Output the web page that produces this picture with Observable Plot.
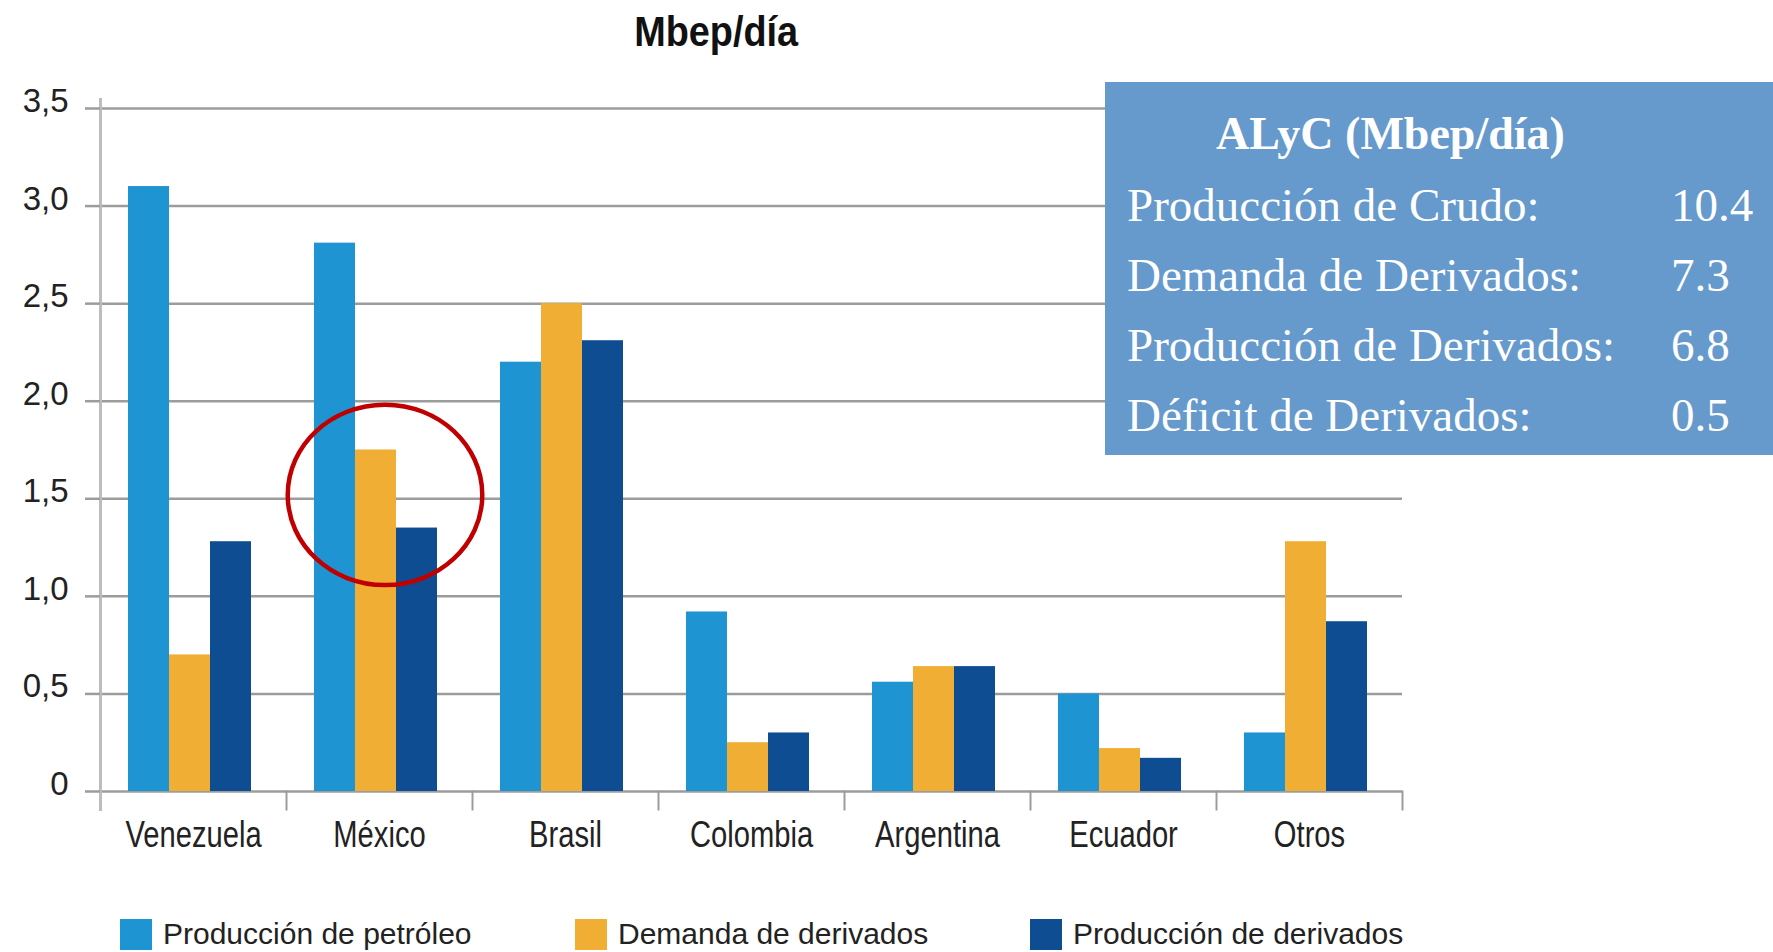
<!DOCTYPE html>
<html>
<head>
<meta charset="utf-8">
<script src="https://cdn.jsdelivr.net/npm/d3@7"></script>
<script src="https://cdn.jsdelivr.net/npm/@observablehq/plot@0.6"></script>
<style>
  html, body { margin: 0; padding: 0; background: #fff; overflow: hidden; }
  #wrap { position: relative; width: 1773px; height: 952px; }
  #title { height: 62px; line-height: 62px; width: 1432px; text-align: center;
           font-weight: bold; font-size: 43px; color: #111;
           font-family: "Liberation Sans", Arial, sans-serif; }
  #title span { display: inline-block; transform: scaleX(0.88); }
  #chart svg { display: block; }
  #legend { display: flex; padding-left: 120px; padding-top: 14px; height: 36px; }
  .item { width: 455px; display: flex; align-items: center; }
  .sw { width: 32px; height: 31px; margin-right: 11px; flex: none; }
  .lt { font-family: "Liberation Sans", Arial, sans-serif; font-size: 30px; color: #222; white-space: nowrap; }
  #box { position: absolute; left: 1105px; top: 82px; width: 668px; height: 373px; background: #6699cc; }
</style>
</head>
<body>
<div id="wrap">
  <div id="title"><span>Mbep/día</span></div>
  <div id="chart"></div>
  <div id="legend"></div>
  <div id="box"></div>
</div>
<script>
// ---- data ----
const countries = ["Venezuela", "México", "Brasil", "Colombia", "Argentina", "Ecuador", "Otros"];
const seriesNames = ["Producción de petróleo", "Demanda de derivados", "Producción de derivados"];
const produccionPetroleo  = [3.10, 2.81, 2.20, 0.92, 0.56, 0.50, 0.30];
const demandaDerivados    = [0.70, 1.75, 2.50, 0.25, 0.64, 0.22, 1.28];
const produccionDerivados = [1.28, 1.35, 2.31, 0.30, 0.64, 0.17, 0.87];
const seriesColors = ["#1f94d2", "#f0ae35", "#0e4d92"];
const yTicks = [0, 0.5, 1, 1.5, 2, 2.5, 3, 3.5];
const yTickLabels = ["0", "0,5", "1,0", "1,5", "2,0", "2,5", "3,0", "3,5"];
const boxTitle = "ALyC (Mbep/día)";
const boxLabels = ["Producción de Crudo:", "Demanda de Derivados:", "Producción de Derivados:", "Déficit de Derivados:"];
const boxValues = ["10.4", "7.3", "6.8", "0.5"];
const highlight = [{country: "México", series: "Demanda de derivados", value: 1.52}];

// ---- table ----
const seriesValues = [produccionPetroleo, demandaDerivados, produccionDerivados];
const rows = [];
countries.forEach((c, i) => seriesNames.forEach((s, j) => rows.push({country: c, series: s, value: seriesValues[j][i]})));

// slightly wide ellipse symbol for the highlight
const ellipse = {
  draw(ctx, size) {
    const r = Math.sqrt(size / Math.PI), rx = r * 1.035, ry = r * 0.96, k = 0.5523;
    ctx.moveTo(rx, 0);
    ctx.bezierCurveTo(rx, k * ry, k * rx, ry, 0, ry);
    ctx.bezierCurveTo(-k * rx, ry, -rx, k * ry, -rx, 0);
    ctx.bezierCurveTo(-rx, -k * ry, -k * rx, -ry, 0, -ry);
    ctx.bezierCurveTo(k * rx, -ry, rx, -k * ry, rx, 0);
    ctx.closePath();
  }
};

const H = 840, mTop = 46, mBottom = 111;
const innerH = H - mTop - mBottom;
const gridColor = "#9c9c9c";

const chart = Plot.plot({
  width: 1773,
  height: H,
  marginLeft: 98,
  marginRight: 369,
  marginTop: mTop,
  marginBottom: mBottom,
  style: {fontFamily: "'Liberation Sans', Arial, sans-serif", background: "white", overflow: "visible"},
  fx: {domain: countries, paddingInner: 0, paddingOuter: 0, label: null},
  x: {domain: seriesNames, paddingInner: 0, paddingOuter: 0.76, align: 0.45, axis: null},
  y: {domain: [0, 3.5], label: null},
  color: {domain: seriesNames, range: seriesColors},
  marks: [
    Plot.gridY(yTicks, {stroke: gridColor, strokeWidth: 2.5, strokeOpacity: 1}),
    Plot.barY(rows, {fx: "country", x: "series", y: "value", fill: "series"}),
    Plot.frame({anchor: "left", insetTop: innerH, insetBottom: -18, stroke: gridColor, strokeWidth: 2}),
    Plot.frame({anchor: "left", facet: "super", insetTop: -9, insetBottom: -18, stroke: "#bdbdbd", strokeWidth: 3}),
    Plot.frame({anchor: "right", facet: "super", insetTop: innerH, insetBottom: -18, stroke: gridColor, strokeWidth: 2}),
    Plot.axisY(yTicks, {tickSize: 15, fill: "none", stroke: gridColor, strokeWidth: 2.5, label: null}),
    Plot.axisY(yTicks, {tickSize: 15, tickPadding: 17, stroke: "none", fill: "#222", fontSize: 33, dy: -7,
      tickFormat: d => yTickLabels[yTicks.indexOf(d)], label: null}),
    Plot.axisFx({anchor: "bottom", tickSize: 0, tickPadding: 30, fontSize: 36, fill: "#222", label: null,
      className: "fxlab"}),
    Plot.dot(highlight, {fx: "country", x: "series", y: "value", r: 94, symbol: ellipse, dx: 9,
      fill: "none", stroke: "#c00000", strokeWidth: 4.5})
  ]
});
document.getElementById("chart").appendChild(chart);

// condensed look for category labels (no narrow font installed)
d3.select(chart).selectAll(".fxlab text").each(function() {
  const L = this.getComputedTextLength();
  if (L > 0) {
    this.setAttribute("textLength", L * 0.81);
    this.setAttribute("lengthAdjust", "spacingAndGlyphs");
  }
});

// ---- legend ----
const legend = d3.select("#legend");
seriesNames.forEach((s, i) => {
  const it = legend.append("div").attr("class", "item");
  it.append("div").attr("class", "sw").style("background", seriesColors[i]);
  it.append("div").attr("class", "lt").text(s);
});

// ---- info box ----
const bsvg = d3.select("#box").append("svg").attr("width", 668).attr("height", 373)
  .style("font-family", "'Liberation Serif', 'DejaVu Serif', serif").style("fill", "#fff");
bsvg.append("text").attr("x", 111).attr("y", 67).attr("font-size", 46).attr("font-weight", "bold").text(boxTitle);
boxLabels.forEach((l, i) => {
  bsvg.append("text").attr("x", 22).attr("y", 139 + 70 * i).attr("font-size", 47).text(l);
  bsvg.append("text").attr("x", 566).attr("y", 139 + 70 * i).attr("font-size", 47).text(boxValues[i]);
});
</script>
</body>
</html>
